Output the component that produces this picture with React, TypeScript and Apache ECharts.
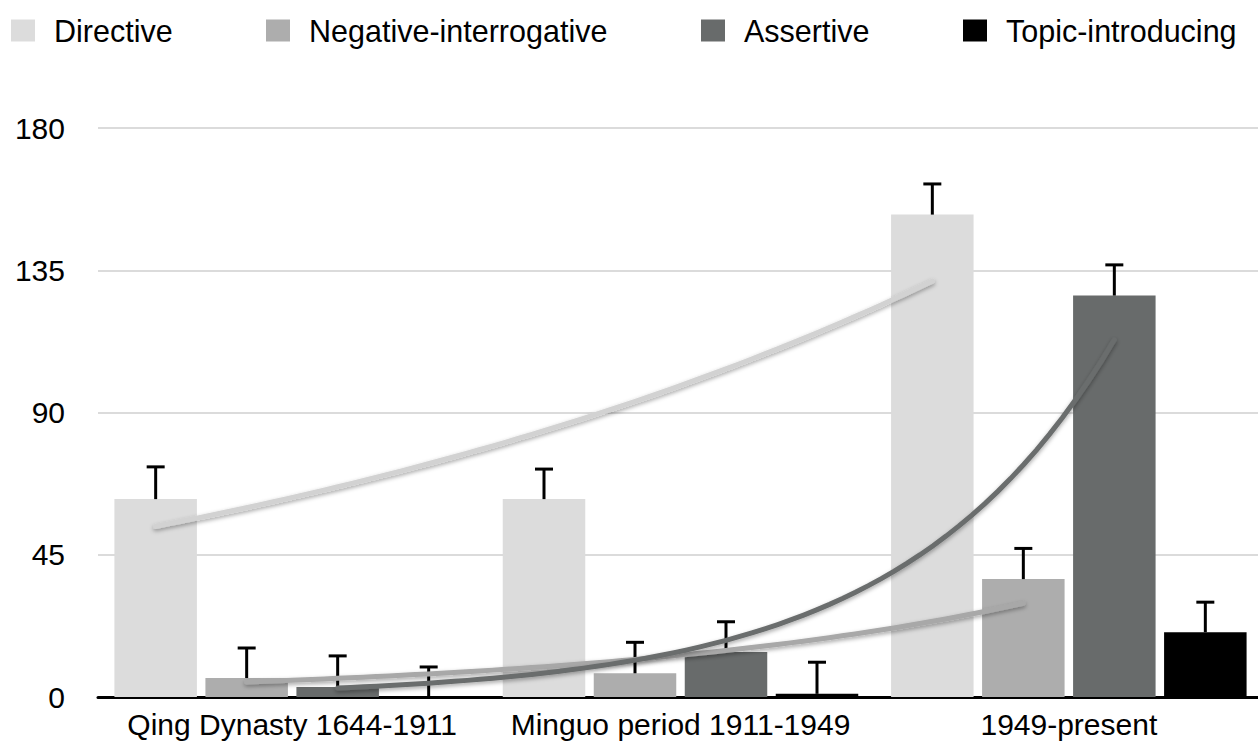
import React, { useEffect, useRef } from "react";
import * as echarts from "echarts";

const categories = ["Qing Dynasty 1644-1911", "Minguo period 1911-1949", "1949-present"];
const seriesNames = ["Directive", "Negative-interrogative", "Assertive", "Topic-introducing"];
const barColors = ["#dcdcdc", "#adadad", "#686b6b", "#000000"];
const trendColors = ["#d2d2d2", "#a8a8a8", "#6a6d6d"];

const directive = [62.6, 62.6, 152.6];
const negativeInterrogative = [6.0, 7.5, 37.3];
const assertive = [3.2, 14.2, 127.0];
const topicIntroducing = [0, 1.0, 20.5];

const directiveErr = [10.2, 9.5, 9.7];
const negativeInterrogativeErr = [9.5, 9.8, 9.7];
const assertiveErr = [9.8, 9.6, 9.7];
const topicIntroducingErr = [9.5, 10.0, 9.5];

const yTicks = [0, 45, 90, 135, 180];

const values = [directive, negativeInterrogative, assertive, topicIntroducing];
const errors = [directiveErr, negativeInterrogativeErr, assertiveErr, topicIntroducingErr];

const FONT = "'Liberation Sans', Arial, Helvetica, sans-serif";
const BAR_W = 82.5;
const BAR_GAP = 8.5;
const STEP = BAR_W + BAR_GAP;
const legendLeft = [11, 266, 701, 963];

// exponential least-squares fit ln(y) = a + b*x over x = 1..n
function expFit(v: number[]) {
  const xs = v.map((_, i) => i + 1);
  const ys = v.map((y) => Math.log(y));
  const n = v.length;
  const mx = xs.reduce((s, x) => s + x, 0) / n;
  const my = ys.reduce((s, y) => s + y, 0) / n;
  let num = 0;
  let den = 0;
  for (let i = 0; i < n; i++) {
    num += (xs[i] - mx) * (ys[i] - my);
    den += (xs[i] - mx) * (xs[i] - mx);
  }
  const b = num / den;
  const a = my - b * mx;
  return { a, b };
}

export default function App() {
  const ref = useRef<HTMLDivElement>(null);
  useEffect(() => {
    if (!ref.current) return;
    const chart = echarts.init(ref.current, undefined, { renderer: "svg" });

    const barSeries = values.map((v, si) => ({
      name: seriesNames[si],
      type: "bar",
      data: v,
      barWidth: BAR_W,
      barGap: (BAR_GAP / BAR_W) * 100 + "%",
      itemStyle: { color: barColors[si] },
      z: 2,
    }));

    const errSeries = values.map((v, si) => ({
      name: "err-" + si,
      type: "custom",
      z: 3,
      data: v.map((val, ci) => [ci, val, errors[si][ci]]),
      renderItem: (params: any, api: any) => {
        const ci = api.value(0);
        const val = api.value(1);
        const err = api.value(2);
        const base = api.coord([ci, val]);
        const topP = api.coord([ci, val + err]);
        const x = base[0] + (si - 1.5) * STEP;
        return {
          type: "group",
          children: [
            { type: "line", shape: { x1: x, y1: base[1], x2: x, y2: topP[1] }, style: { stroke: "#000", lineWidth: 3 } },
            { type: "line", shape: { x1: x - 9, y1: topP[1], x2: x + 9, y2: topP[1] }, style: { stroke: "#000", lineWidth: 3 } },
          ],
        };
      },
    }));

    const trendSeries = [0, 1, 2].map((si) => {
      const fit = expFit(values[si]);
      return {
        name: "trend-" + si,
        type: "custom",
        z: 4,
        data: [[0, 0]],
        renderItem: (params: any, api: any) => {
          const x0 = api.coord([0, 0])[0] + (si - 1.5) * STEP;
          const x2 = api.coord([2, 0])[0] + (si - 1.5) * STEP;
          const pts: number[][] = [];
          const N = 60;
          for (let k = 0; k <= N; k++) {
            const t = (2 * k) / N;
            const yv = Math.exp(fit.a + fit.b * (t + 1));
            const px = x0 + ((x2 - x0) * t) / 2;
            const py = api.coord([0, yv])[1];
            pts.push([px, py]);
          }
          return {
            type: "polyline",
            shape: { points: pts },
            style: {
              stroke: trendColors[si],
              lineWidth: 5,
              fill: null,
              lineCap: "round",
              shadowBlur: 4,
              shadowColor: "rgba(0,0,0,0.35)",
              shadowOffsetY: 2,
            },
          };
        },
      };
    });

    chart.setOption({
      animation: false,
      backgroundColor: "#ffffff",
      textStyle: { fontFamily: FONT },
      legend: seriesNames.map((n, i) => ({
        data: [n],
        left: legendLeft[i],
        top: 15,
        padding: 0,
        icon: "rect",
        itemWidth: 24,
        itemHeight: 22,
        selectedMode: false,
        textStyle: { fontSize: 30.5, color: "#000", fontFamily: FONT, padding: [0, 0, 0, 14] },
      })),
      grid: { left: 98, top: 128, width: 1165, height: 569, containLabel: false },
      xAxis: {
        type: "category",
        data: categories,
        axisLine: { lineStyle: { color: "#000", width: 3 } },
        axisTick: { show: false },
        axisLabel: { fontSize: 30, color: "#000", margin: 12, fontFamily: FONT, interval: 0, hideOverlap: false },
      },
      yAxis: {
        type: "value",
        min: yTicks[0],
        max: yTicks[yTicks.length - 1],
        interval: 45,
        axisLine: { show: false },
        axisTick: { show: false },
        axisLabel: { fontSize: 30, color: "#000", margin: 33, fontFamily: FONT },
        splitLine: { lineStyle: { color: "#cfcfcf", width: 1.5 } },
      },
      series: [...barSeries, ...errSeries, ...trendSeries],
    });
    return () => chart.dispose();
  }, []);
  return (
    <div style={{ position: "fixed", left: 0, top: 0, width: 1258, height: 744, overflow: "hidden", background: "#fff" }}>
      <div ref={ref} style={{ width: 1270, height: 744 }} />
    </div>
  );
}
